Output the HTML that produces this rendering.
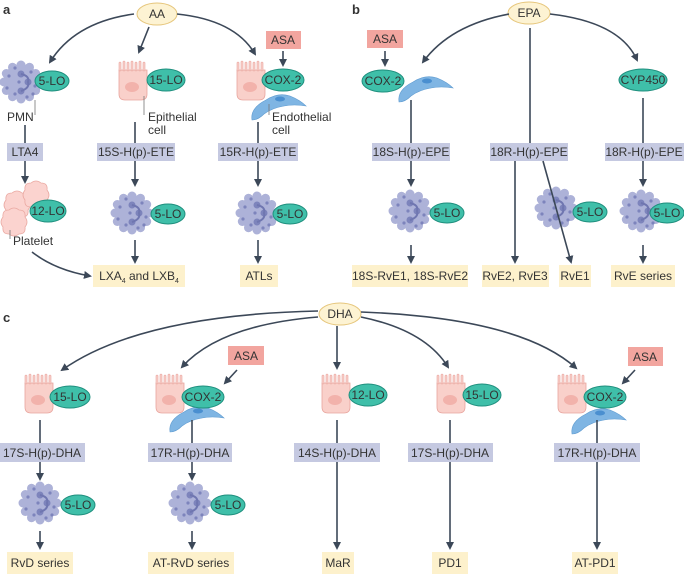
<!DOCTYPE html>
<html><head><meta charset="utf-8"><style>
body{margin:0;background:#fff}
svg{display:block}
text{font-family:"Liberation Sans",sans-serif;font-size:12px;fill:#333}
.t{text-anchor:middle}
.ln{stroke:#3c4858;stroke-width:1.6;fill:none}
.lead{stroke:#777;stroke-width:0.8;fill:none}
</style></head><body>
<svg width="684" height="574" viewBox="0 0 684 574" xmlns="http://www.w3.org/2000/svg">
<defs>
<marker id="ah" markerWidth="8" markerHeight="8" refX="6" refY="4" orient="auto" markerUnits="userSpaceOnUse">
<path d="M0,0 L8,4 L0,8 Z" fill="#3c4858"/></marker>
<g id="pmn">
<g fill="#adb2d8">
<circle r="18"/>
<circle cx="0" cy="-17" r="4.5"/><circle cx="8.5" cy="-14.7" r="4.5"/><circle cx="14.7" cy="-8.5" r="4.5"/><circle cx="17" cy="0" r="4.5"/><circle cx="14.7" cy="8.5" r="4.5"/><circle cx="8.5" cy="14.7" r="4.5"/><circle cx="0" cy="17" r="4.5"/><circle cx="-8.5" cy="14.7" r="4.5"/><circle cx="-14.7" cy="8.5" r="4.5"/><circle cx="-17" cy="0" r="4.5"/><circle cx="-14.7" cy="-8.5" r="4.5"/><circle cx="-8.5" cy="-14.7" r="4.5"/>
</g>
<g fill="#7d84bc">
<circle cx="-12" cy="-6" r="1.6"/><circle cx="-6" cy="-14" r="1.6"/><circle cx="10" cy="-10" r="1.6"/><circle cx="-14" cy="6" r="1.6"/><circle cx="-6" cy="12" r="1.6"/><circle cx="6" cy="15" r="1.6"/><circle cx="14" cy="4" r="1.6"/><circle cx="-2" cy="0" r="1.6"/><circle cx="12" cy="12" r="1.6"/>
<circle cx="0" cy="-8" r="3.5"/><circle cx="7" cy="0" r="3.5"/><circle cx="0" cy="9" r="3.5"/>
</g>
<path d="M0,-8 Q9,-6 7,0 Q9,6 0,9" stroke="#6f76b0" stroke-width="2" fill="none"/>
</g>
<g id="epi">
<path d="M-14,-10 L14,-10 L14,14 Q14,20 8,20 L-8,20 Q-14,20 -14,14 Z" fill="#f9d0ca" stroke="#e8a59e" stroke-width="0.8"/>
<path d="M-13,-10 V-17 M-9,-10 V-18 M-5,-10 V-17 M-1,-10 V-18 M3,-10 V-17 M7,-10 V-18 M11,-10 V-17" stroke="#e8a59e" stroke-width="2.6" stroke-linecap="round"/>
<path d="M-13,-10 V-17 M-9,-10 V-18 M-5,-10 V-17 M-1,-10 V-18 M3,-10 V-17 M7,-10 V-18 M11,-10 V-17" stroke="#f9d0ca" stroke-width="1.4" stroke-linecap="round"/>
<ellipse cx="-1" cy="7" rx="7" ry="5" fill="#f2b2ab"/>
</g>
<g id="endo">
<path d="M-26,20 Q-28,8 -12,0 Q0,-8 12,-4 Q22,0 28,6 Q16,4 6,6 Q-6,8 -14,14 Q-20,20 -26,20Z" fill="#7fb5e3" stroke="#5f9bd0" stroke-width="0.6"/>
<ellipse cx="2" cy="-1" rx="5" ry="2.5" fill="#4a8fd0"/>
</g>
<g id="plt">
<path d="M-11,-5 Q-12,-12 -5,-12 Q0,-16 5,-12 Q12,-12 11,-5 Q15,0 11,5 Q12,12 5,12 Q0,16 -5,12 Q-12,12 -11,5 Q-15,0 -11,-5Z" fill="#fbd3cf" stroke="#eaa9a2" stroke-width="0.8"/>
</g>
</defs>

<text x="3" y="14" style="font-weight:bold;font-size:13px">a</text>
<text x="352" y="14" style="font-weight:bold;font-size:13px">b</text>
<text x="3" y="322" style="font-weight:bold;font-size:13px">c</text>

<!-- ===== Panel a ===== -->
<ellipse cx="157" cy="14" rx="20" ry="11" fill="#fdf3d3" stroke="#e6c67c"/>
<text class="t" x="157" y="18">AA</text>
<path class="ln" d="M134,14 Q75,22 50,62" marker-end="url(#ah)"/>
<path class="ln" d="M149,27 L139,52" marker-end="url(#ah)"/>
<path class="ln" d="M177,14 Q235,20 255,54" marker-end="url(#ah)"/>

<use href="#pmn" x="21" y="82"/>
<ellipse cx="52" cy="81" rx="17" ry="10" fill="#3fbfa9" stroke="#1f8f7e"/>
<text class="t" x="52" y="85">5-LO</text>
<path class="lead" d="M35,100 V115"/>
<text x="7" y="121">PMN</text>
<path class="ln" d="M25,125 V143"/>
<rect x="7" y="143" width="36" height="18" fill="#c5c9e1"/>
<text class="t" x="25" y="156">LTA4</text>
<path class="ln" d="M25,161 V182" marker-end="url(#ah)"/>
<use href="#plt" x="17" y="205"/>
<use href="#plt" x="36" y="195"/>
<use href="#plt" x="14" y="222"/>
<ellipse cx="48" cy="211" rx="18" ry="11" fill="#3fbfa9" stroke="#1f8f7e"/>
<text class="t" x="48" y="215">12-LO</text>
<path class="lead" d="M10,230 V239"/>
<text x="13" y="245">Platelet</text>
<path class="ln" d="M32,252 Q55,270 90,276" marker-end="url(#ah)"/>

<use href="#epi" x="133" y="80"/>
<ellipse cx="166" cy="80" rx="19" ry="11" fill="#3fbfa9" stroke="#1f8f7e"/>
<text class="t" x="166" y="84">15-LO</text>
<path class="lead" d="M144,96 V115"/>
<text x="148" y="121">Epithelial</text>
<text x="148" y="134">cell</text>
<path class="ln" d="M135,122 V143"/>
<rect x="97" y="143" width="78" height="18" fill="#c5c9e1"/>
<text class="t" x="136" y="156">15S-H(p)-ETE</text>
<path class="ln" d="M135,161 V185" marker-end="url(#ah)"/>
<use href="#pmn" x="132" y="213"/>
<ellipse cx="168" cy="214" rx="17" ry="10" fill="#3fbfa9" stroke="#1f8f7e"/>
<text class="t" x="168" y="218">5-LO</text>
<path class="ln" d="M135,240 V262" marker-end="url(#ah)"/>
<rect x="93" y="265" width="92" height="22" fill="#fdf1cc"/>
<text class="t" x="139" y="280">LXA<tspan dy="3" font-size="7">4</tspan><tspan dy="-3"> and LXB</tspan><tspan dy="3" font-size="7">4</tspan></text>

<rect x="266" y="31" width="35" height="18" fill="#f2a59f"/>
<text class="t" x="283" y="44">ASA</text>
<path class="ln" d="M283,51 V65" marker-end="url(#ah)"/>
<use href="#epi" x="251" y="80"/>
<use href="#endo" x="278" y="100"/>
<ellipse cx="283" cy="80" rx="21" ry="11" fill="#3fbfa9" stroke="#1f8f7e"/>
<text class="t" x="283" y="84">COX-2</text>
<path class="lead" d="M269,104 V115"/>
<text x="272" y="121">Endothelial</text>
<text x="272" y="134">cell</text>
<path class="ln" d="M258,122 V143"/>
<rect x="218" y="143" width="80" height="18" fill="#c5c9e1"/>
<text class="t" x="258" y="156">15R-H(p)-ETE</text>
<path class="ln" d="M258,161 V185" marker-end="url(#ah)"/>
<use href="#pmn" x="257" y="213"/>
<ellipse cx="290" cy="214" rx="17" ry="10" fill="#3fbfa9" stroke="#1f8f7e"/>
<text class="t" x="290" y="218">5-LO</text>
<path class="ln" d="M258,240 V262" marker-end="url(#ah)"/>
<rect x="240" y="265" width="38" height="22" fill="#fdf1cc"/>
<text class="t" x="259" y="280">ATLs</text>

<!-- ===== Panel b ===== -->
<ellipse cx="529" cy="13" rx="21" ry="11" fill="#fdf3d3" stroke="#e6c67c"/>
<text class="t" x="529" y="17">EPA</text>
<path class="ln" d="M509,14 Q450,25 423,62" marker-end="url(#ah)"/>
<path class="ln" d="M550,14 Q620,22 637,60" marker-end="url(#ah)"/>

<rect x="367" y="30" width="36" height="18" fill="#f2a59f"/>
<text class="t" x="385" y="43">ASA</text>
<path class="ln" d="M385,51 V65" marker-end="url(#ah)"/>
<use href="#endo" x="425" y="82"/>
<ellipse cx="383" cy="81" rx="21" ry="11" fill="#3fbfa9" stroke="#1f8f7e"/>
<text class="t" x="383" y="85">COX-2</text>
<path class="ln" d="M411,100 V143"/>
<rect x="372" y="143" width="78" height="18" fill="#c5c9e1"/>
<text class="t" x="411" y="156">18S-H(p)-EPE</text>
<path class="ln" d="M411,161 V185" marker-end="url(#ah)"/>
<use href="#pmn" x="410" y="211"/>
<ellipse cx="447" cy="213" rx="17" ry="10" fill="#3fbfa9" stroke="#1f8f7e"/>
<text class="t" x="447" y="217">5-LO</text>
<path class="ln" d="M411,245 V262" marker-end="url(#ah)"/>
<rect x="352" y="265" width="116" height="22" fill="#fdf1cc"/>
<text class="t" x="410" y="280">18S-RvE1, 18S-RvE2</text>

<path class="ln" d="M530,28 V143"/>
<rect x="490" y="143" width="78" height="18" fill="#c5c9e1"/>
<text class="t" x="529" y="156">18R-H(p)-EPE</text>
<path class="ln" d="M515,161 V262" marker-end="url(#ah)"/>
<use href="#pmn" x="556" y="208"/>
<path class="ln" d="M543,161 L571,262" marker-end="url(#ah)"/>
<ellipse cx="590" cy="212" rx="17" ry="10" fill="#3fbfa9" stroke="#1f8f7e"/>
<text class="t" x="590" y="216">5-LO</text>
<rect x="482" y="265" width="67" height="22" fill="#fdf1cc"/>
<text class="t" x="515" y="280">RvE2, RvE3</text>
<rect x="559" y="265" width="32" height="22" fill="#fdf1cc"/>
<text class="t" x="575" y="280">RvE1</text>

<ellipse cx="643" cy="80" rx="24" ry="11" fill="#3fbfa9" stroke="#1f8f7e"/>
<text class="t" x="643" y="84">CYP450</text>
<path class="ln" d="M643,98 V143"/>
<rect x="605" y="143" width="79" height="18" fill="#c5c9e1"/>
<text class="t" x="644" y="156">18R-H(p)-EPE</text>
<path class="ln" d="M643,161 V185" marker-end="url(#ah)"/>
<use href="#pmn" x="641" y="211"/>
<ellipse cx="667" cy="213" rx="17" ry="10" fill="#3fbfa9" stroke="#1f8f7e"/>
<text class="t" x="667" y="217">5-LO</text>
<path class="ln" d="M643,245 V262" marker-end="url(#ah)"/>
<rect x="611" y="265" width="64" height="22" fill="#fdf1cc"/>
<text class="t" x="643" y="280">RvE series</text>

<!-- ===== Panel c ===== -->
<ellipse cx="340" cy="314" rx="21" ry="11" fill="#fdf3d3" stroke="#e6c67c"/>
<text class="t" x="340" y="318">DHA</text>
<path class="ln" d="M318,311 Q140,315 62,370" marker-end="url(#ah)"/>
<path class="ln" d="M318,317 Q220,325 182,367" marker-end="url(#ah)"/>
<path class="ln" d="M337,326 V368" marker-end="url(#ah)"/>
<path class="ln" d="M361,317 Q425,330 448,367" marker-end="url(#ah)"/>
<path class="ln" d="M361,312 Q520,318 576,368" marker-end="url(#ah)"/>

<use href="#epi" x="39" y="393"/>
<ellipse cx="70" cy="397" rx="20" ry="11" fill="#3fbfa9" stroke="#1f8f7e"/>
<text class="t" x="70" y="401">15-LO</text>
<path class="ln" d="M40,420 V443"/>
<rect x="0" y="443" width="85" height="19" fill="#c5c9e1"/>
<text class="t" x="42" y="457">17S-H(p)-DHA</text>
<path class="ln" d="M40,462 V479" marker-end="url(#ah)"/>
<use href="#pmn" x="40" y="503"/>
<ellipse cx="78" cy="505" rx="17" ry="10" fill="#3fbfa9" stroke="#1f8f7e"/>
<text class="t" x="78" y="509">5-LO</text>
<path class="ln" d="M40,531 V548" marker-end="url(#ah)"/>
<rect x="7" y="552" width="66" height="22" fill="#fdf1cc"/>
<text class="t" x="40" y="567">RvD series</text>

<rect x="228" y="346" width="36" height="19" fill="#f2a59f"/>
<text class="t" x="246" y="360">ASA</text>
<path class="ln" d="M237,370 L225,383" marker-end="url(#ah)"/>
<use href="#epi" x="170" y="393"/>
<use href="#endo" x="196" y="412"/>
<ellipse cx="203" cy="397" rx="21" ry="11" fill="#3fbfa9" stroke="#1f8f7e"/>
<text class="t" x="203" y="401">COX-2</text>
<path class="ln" d="M192,420 V443"/>
<rect x="148" y="443" width="84" height="19" fill="#c5c9e1"/>
<text class="t" x="190" y="457">17R-H(p)-DHA</text>
<path class="ln" d="M192,462 V479" marker-end="url(#ah)"/>
<use href="#pmn" x="190" y="503"/>
<ellipse cx="228" cy="505" rx="17" ry="10" fill="#3fbfa9" stroke="#1f8f7e"/>
<text class="t" x="228" y="509">5-LO</text>
<path class="ln" d="M192,531 V548" marker-end="url(#ah)"/>
<rect x="148" y="552" width="86" height="22" fill="#fdf1cc"/>
<text class="t" x="191" y="567">AT-RvD series</text>

<use href="#epi" x="336" y="393"/>
<ellipse cx="368" cy="395" rx="19" ry="11" fill="#3fbfa9" stroke="#1f8f7e"/>
<text class="t" x="368" y="399">12-LO</text>
<path class="ln" d="M337,420 V443"/>
<rect x="294" y="443" width="86" height="19" fill="#c5c9e1"/>
<text class="t" x="337" y="457">14S-H(p)-DHA</text>
<path class="ln" d="M337,462 V548" marker-end="url(#ah)"/>
<rect x="322" y="552" width="32" height="22" fill="#fdf1cc"/>
<text class="t" x="338" y="567">MaR</text>

<use href="#epi" x="451" y="393"/>
<ellipse cx="482" cy="395" rx="19" ry="11" fill="#3fbfa9" stroke="#1f8f7e"/>
<text class="t" x="482" y="399">15-LO</text>
<path class="ln" d="M450,420 V443"/>
<rect x="408" y="443" width="85" height="19" fill="#c5c9e1"/>
<text class="t" x="450" y="457">17S-H(p)-DHA</text>
<path class="ln" d="M450,462 V548" marker-end="url(#ah)"/>
<rect x="432" y="552" width="36" height="22" fill="#fdf1cc"/>
<text class="t" x="450" y="567">PD1</text>

<rect x="628" y="347" width="35" height="19" fill="#f2a59f"/>
<text class="t" x="645" y="361">ASA</text>
<path class="ln" d="M635,370 L623,383" marker-end="url(#ah)"/>
<use href="#epi" x="572" y="393"/>
<use href="#endo" x="598" y="414"/>
<ellipse cx="605" cy="397" rx="21" ry="11" fill="#3fbfa9" stroke="#1f8f7e"/>
<text class="t" x="605" y="401">COX-2</text>
<path class="ln" d="M597,420 V443"/>
<rect x="554" y="443" width="86" height="19" fill="#c5c9e1"/>
<text class="t" x="597" y="457">17R-H(p)-DHA</text>
<path class="ln" d="M597,462 V548" marker-end="url(#ah)"/>
<rect x="572" y="552" width="46" height="22" fill="#fdf1cc"/>
<text class="t" x="595" y="567">AT-PD1</text>
</svg>
</body></html>
